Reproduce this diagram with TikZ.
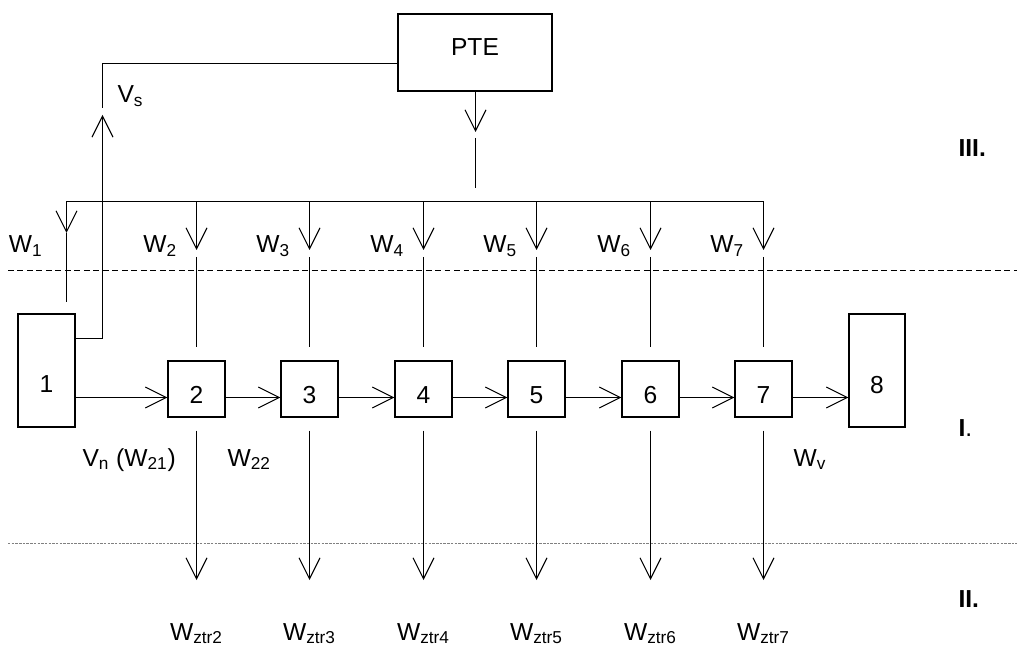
\documentclass[tikz,border=0pt]{standalone}
\usepackage{fontspec}
\setmainfont{Liberation Sans}
\usetikzlibrary{positioning,calc,arrows.meta}

\begin{document}
\begin{tikzpicture}[x=0.2mm, y=-0.2mm, >={Straight Barb[length=4.2mm,width=4.2mm]}, line width=0.6pt,
 unit/.style={draw, rectangle, inner sep=0pt, minimum width=11.4mm, minimum height=11.2mm},
 tall/.style={unit, minimum height=22.6mm},
 txt/.style={font=\fontsize{14}{16}\selectfont, inner sep=0pt},
 zone/.style={txt, font=\fontsize{14}{16}\selectfont\bfseries, anchor=base west},
 every label/.style={txt}]

\useasboundingbox (0,0) rectangle (1017,652);

% zone separators
\draw[dash pattern=on 3.4pt off 2pt] (8,270.5) -- (1017,270.5);
\draw[gray, line width=0.5pt, dash pattern=on 1.4pt off 0.7pt] (8,543.5) -- (1017,543.5);

% units
\node[tall, label={[yshift=-2.8mm]center:1}] (u1) at (46.5,370.5) {};
\node[unit, label={[yshift=-1.2mm]center:2}] (u2) at (196.5,389) {};
\node[unit, label={[yshift=-1.2mm]center:3}] (u3) at (309.5,389) {};
\node[unit, label={[yshift=-1.2mm]center:4}] (u4) at (423.5,389) {};
\node[unit, label={[yshift=-1.2mm]center:5}] (u5) at (536.5,389) {};
\node[unit, label={[yshift=-1.2mm]center:6}] (u6) at (650.5,389) {};
\node[unit, label={[yshift=-1.2mm]center:7}] (u7) at (763.5,389) {};
\node[tall, minimum width=11.2mm, label={[yshift=-2.9mm]center:8}] (u8) at (877,370.5) {};
\node[unit, minimum width=30.8mm, minimum height=15.4mm, label={[yshift=1mm]center:PTE}] (pte) at (475,52.5) {};

\coordinate (row) at (0,397.5);
\coordinate (bus) at (0,201.5);
\coordinate (tipA) at (0,250);
\coordinate (gapA) at (0,257);
\coordinate (low) at (0,580);

% main line
\draw[->] (u1.east |- row) -- (u2.west |- row);
\draw[->] (u2.east |- row) -- (u3.west |- row);
\draw[->] (u3.east |- row) -- (u4.west |- row);
\draw[->] (u4.east |- row) -- (u5.west |- row);
\draw[->] (u5.east |- row) -- (u6.west |- row);
\draw[->] (u6.east |- row) -- (u7.west |- row);
\draw[->] (u7.east |- row) -- (u8.west |- row);

% steam to PTE and back
\coordinate (vsfoot) at (102.5,338.5);
\coordinate (vstip) at (102.5,115);
\coordinate (vsgap) at (102.5,108);
\coordinate (vscorner) at (102.5,63.5);
\draw[->] (u1.east |- vsfoot) -- (vsfoot) -- (vstip);
\draw (vsgap) -- (vscorner) -- (pte.west |- vscorner);

\coordinate (ptetip) at (475.5,132);
\coordinate (ptegap) at (475.5,138);
\coordinate (ptefoot) at (475.5,188);
\draw[->] (pte.south -| ptetip) -- (ptetip);
\draw (ptegap) -- (ptefoot);

% distribution bus
\coordinate (w1top) at (66.5,201.5);
\coordinate (w1tip) at (66.5,233);
\coordinate (w1end) at (66.5,302);
\draw (w1top) -- (u7 |- bus);
\draw[->] (w1top) -- (w1tip);
\draw (w1tip) -- (w1end);

\draw[->] (u2 |- bus) -- (u2 |- tipA);
\draw[->] (u3 |- bus) -- (u3 |- tipA);
\draw[->] (u4 |- bus) -- (u4 |- tipA);
\draw[->] (u5 |- bus) -- (u5 |- tipA);
\draw[->] (u6 |- bus) -- (u6 |- tipA);
\draw[->] (u7 |- bus) -- (u7 |- tipA);
\draw (u2 |- gapA) -- ([yshift=2.6mm]u2.north);
\draw (u3 |- gapA) -- ([yshift=2.6mm]u3.north);
\draw (u4 |- gapA) -- ([yshift=2.6mm]u4.north);
\draw (u5 |- gapA) -- ([yshift=2.6mm]u5.north);
\draw (u6 |- gapA) -- ([yshift=2.6mm]u6.north);
\draw (u7 |- gapA) -- ([yshift=2.6mm]u7.north);

% losses
\draw[->] ([yshift=-2.6mm]u2.south) -- (u2 |- low);
\draw[->] ([yshift=-2.6mm]u3.south) -- (u3 |- low);
\draw[->] ([yshift=-2.6mm]u4.south) -- (u4 |- low);
\draw[->] ([yshift=-2.6mm]u5.south) -- (u5 |- low);
\draw[->] ([yshift=-2.6mm]u6.south) -- (u6 |- low);
\draw[->] ([yshift=-2.6mm]u7.south) -- (u7 |- low);

% labels
\node[txt, anchor=base west] (vs) at (117,103) {V\textsubscript{s}};
\node[txt, anchor=base east] (w1) at (43,253) {W\textsubscript{1}};
\node[txt, anchor=base east] (w2) at (177.5,253) {W\textsubscript{2}};
\node[txt, anchor=base east] (w3) at (290.5,253) {W\textsubscript{3}};
\node[txt, anchor=base east] (w4) at (404.5,253) {W\textsubscript{4}};
\node[txt, anchor=base east] (w5) at (517.5,253) {W\textsubscript{5}};
\node[txt, anchor=base east] (w6) at (631.5,253) {W\textsubscript{6}};
\node[txt, anchor=base east] (w7) at (744.5,253) {W\textsubscript{7}};
\node[txt, anchor=base west] (vn) at (82,466) {V\textsubscript{n} (W\textsubscript{21})};
\node[txt, anchor=base west] (w22) at (227,466) {W\textsubscript{22}};
\node[txt, anchor=base west] (wv) at (793,466) {W\textsubscript{v}};
\node[txt, anchor=base] (z2) at (196.5,640) {W\textsubscript{ztr2}};
\node[txt, anchor=base] (z3) at (309.5,640) {W\textsubscript{ztr3}};
\node[txt, anchor=base] (z4) at (423.5,640) {W\textsubscript{ztr4}};
\node[txt, anchor=base] (z5) at (536.5,640) {W\textsubscript{ztr5}};
\node[txt, anchor=base] (z6) at (650.5,640) {W\textsubscript{ztr6}};
\node[txt, anchor=base] (z7) at (763.5,640) {W\textsubscript{ztr7}};

\node[zone] (zIII) at (958,157) {III.};
\node[zone] (zI) at (958,437) {I\mdseries.};
\node[zone] (zII) at (958,607) {II.};
\end{tikzpicture}
\end{document}
